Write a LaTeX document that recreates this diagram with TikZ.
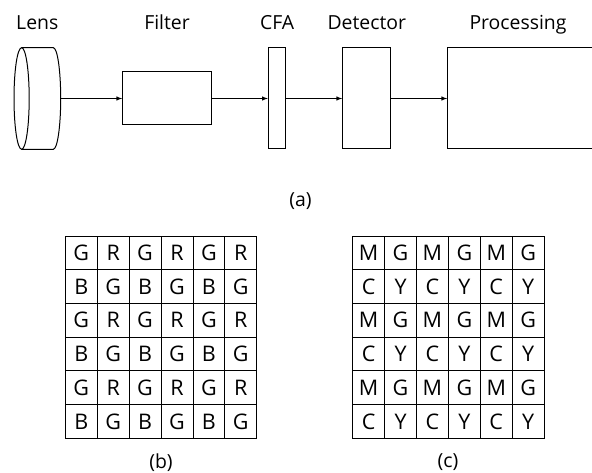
\documentclass[tikz,border=0pt]{standalone}
\usepackage{fontspec}
\setmainfont{Open Sans}
\usetikzlibrary{positioning, arrows}

\begin{document}
\begin{tikzpicture}[x=1pt, y=-1pt, >=latex]
	\tikzstyle{blk} = [rectangle, draw, line width=1pt, inner sep=0pt]
	\tikzstyle{lbl} = [font=\fontsize{19.4}{23}\selectfont, anchor=base]
	\tikzstyle{captxt} = [font=\fontsize{19.4}{23}\selectfont]
	\tikzstyle{cell} = [rectangle, draw, line width=0.8pt, minimum width=31.9pt, minimum height=33.7pt, inner sep=0pt, font=\fontsize{21.5}{25}\selectfont]
	\useasboundingbox (0,0) rectangle (592,473);

	% optical chain
	\node [minimum width=46.7pt, minimum height=101pt, inner sep=0pt] (lens) at (37.3,98.5) {};
	\draw [line width=1pt] (21.6,98.5) ellipse [x radius=7.6, y radius=50.8];
	\draw [line width=1pt] (21.6,47.7) -- (53.3,47.7) arc [start angle=-90, end angle=90, x radius=7.4, y radius=50.8] -- (21.6,149.3);

	\node [blk, minimum width=88.7pt, minimum height=53pt, right=61.3pt of lens] (filter) {};
	\node [blk, minimum width=17.6pt, minimum height=101pt, right=56pt of filter] (cfa) {};
	\node [blk, minimum width=48.3pt, minimum height=101pt, right=55.7pt of cfa] (detector) {};
	\node [blk, minimum width=150pt, minimum height=101pt, right=55.7pt of detector] (processing) {};

	\draw [->, line width=1pt] (lens) -- (filter);
	\draw [->, line width=1pt] (filter) -- (cfa);
	\draw [->, line width=1pt] (cfa) -- (detector);
	\draw [->, line width=1pt] (detector) -- (processing);

	\coordinate (top) at (0,29.5);
	\node [lbl] (lensLbl) at (lens |- top) {Lens};
	\node [lbl] (filterLbl) at (filter |- top) {Filter};
	\node [lbl] (cfaLbl) at (cfa |- top) {CFA};
	\node [lbl] (detectorLbl) at (detector |- top) {Detector};
	\node [lbl] (processingLbl) at (518,29.5) {Processing};

	\node [captxt] (capA) at (300.5,201) {(a)};

	% Bayer pattern
	\foreach \row [count=\r] in {{G,R,G,R,G,R},{B,G,B,G,B,G},{G,R,G,R,G,R},{B,G,B,G,B,G},{G,R,G,R,G,R},{B,G,B,G,B,G}}
		\foreach \ch [count=\c] in \row
			\node [cell] (b-\r-\c) at ({65.3+31.9*(\c-0.5)}, {236+33.7*(\r-0.5)}) {\ch};
	\node [captxt] (capB) at (161,462.5) {(b)};

	% CMYG pattern
	\foreach \row [count=\r] in {{M,G,M,G,M,G},{C,Y,C,Y,C,Y},{M,G,M,G,M,G},{C,Y,C,Y,C,Y},{M,G,M,G,M,G},{C,Y,C,Y,C,Y}}
		\foreach \ch [count=\c] in \row
			\node [cell] (c-\r-\c) at ({352.7+31.9*(\c-0.5)}, {236+33.7*(\r-0.5)}) {\ch};
	\node [captxt] (capC) at (448,462.5) {(c)};
\end{tikzpicture}
\end{document}
